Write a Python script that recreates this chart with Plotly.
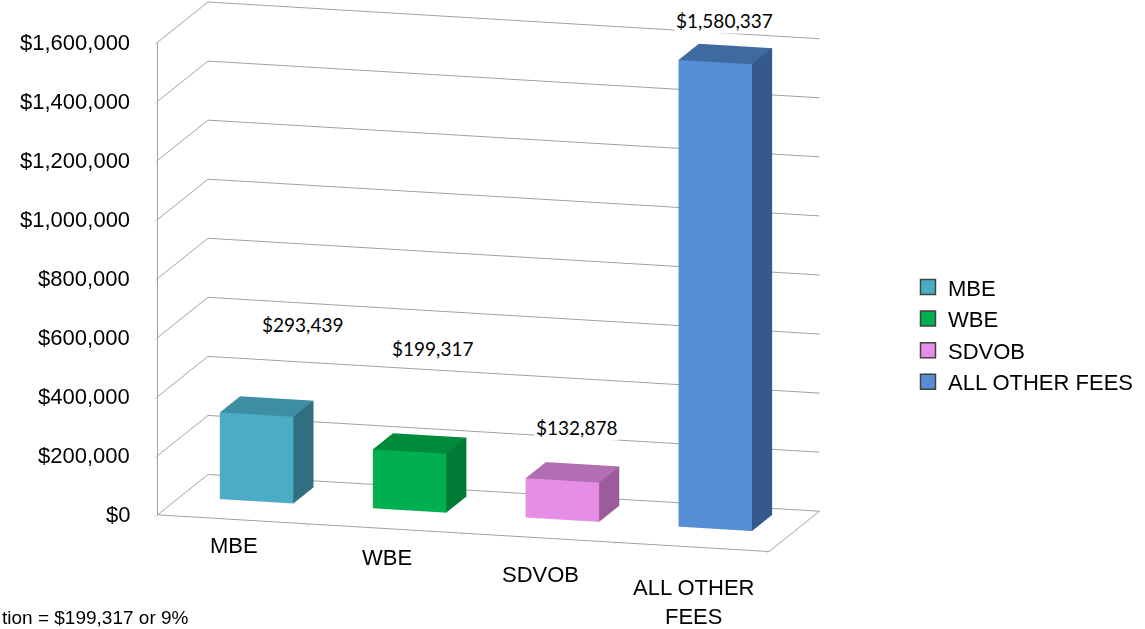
import plotly.graph_objects as go

categories = ["MBE", "WBE", "SDVOB", "ALL OTHER FEES"]
axis_labels = ["MBE", "WBE", "SDVOB", "ALL OTHER<br>FEES"]
values = [293439, 199317, 132878, 1580337]
value_labels = ["$293,439", "$199,317", "$132,878", "$1,580,337"]
z_ticks = [0, 200000, 400000, 600000, 800000, 1000000, 1200000, 1400000, 1600000]
footnote = "tion = $199,317 or 9%"

front_colors = ["#4BACC6", "#00B050", "#E68EE6", "#558ED5"]
top_colors = ["#3D8DA3", "#008A3C", "#B26EB2", "#3F6AA0"]
side_colors = ["#2F6F80", "#007A34", "#9C5C9C", "#35598C"]

FONT = "Liberation Sans, Arial, sans-serif"
LABEL_FONT = "Lato, Carlito, Calibri, sans-serif"

half_w = 0.24
d0, d1 = 0.45, 0.85
Z_MAX = 1600000

fig = go.Figure()

tri_i = [0, 0, 1, 1, 4, 4, 0, 0, 3, 3, 0, 0]
tri_j = [1, 5, 2, 6, 5, 6, 3, 7, 2, 6, 1, 2]
tri_k = [5, 4, 6, 5, 6, 7, 7, 4, 6, 7, 2, 3]

for n, (cat, v) in enumerate(zip(categories, values)):
    xc = n + 1
    x0, x1 = xc - half_w, xc + half_w
    xs = [x0, x1, x1, x0, x0, x1, x1, x0]
    ys = [d0, d0, d1, d1, d0, d0, d1, d1]
    zs = [0, 0, 0, 0, v, v, v, v]
    fc = ([front_colors[n]] * 2 + [side_colors[n]] * 2 + [top_colors[n]] * 2 +
          [side_colors[n]] * 6)
    fig.add_trace(go.Mesh3d(
        x=xs, y=ys, z=zs, i=tri_i, j=tri_j, k=tri_k,
        facecolor=fc, flatshading=True, showlegend=False, hoverinfo="skip",
        lighting=dict(ambient=1.0, diffuse=0.0, specular=0.0, roughness=1.0, fresnel=0.0),
        name=cat,
    ))
    fig.add_trace(go.Scatter(
        x=[None], y=[None], mode="markers", name=cat,
        marker=dict(symbol="square", size=15, color=front_colors[n],
                    line=dict(color="#404040", width=1.5)),
    ))

label_shift = [(35, 82), (12, 95), (4, 45), (-1, 34)]
cat_shift = [-12, -15, -22, -26]
annotations3d = []
for t in z_ticks:
    annotations3d.append(dict(
        x=0.5, y=0, z=t, text="${:,}".format(t), showarrow=False, xanchor="right",
        xshift=-26, font=dict(family=FONT, size=22, color="#000000"),
    ))
for n, lab in enumerate(axis_labels):
    annotations3d.append(dict(
        x=n + 1, y=0, z=0, text=lab, showarrow=False, yanchor="top",
        yshift=cat_shift[n], font=dict(family=FONT, size=22, color="#000000"),
    ))
for n, (lab, v) in enumerate(zip(value_labels, values)):
    sx, sy = label_shift[n]
    annotations3d.append(dict(
        x=n + 1, y=(d0 + d1) / 2, z=v, text=lab, showarrow=False,
        xshift=sx, yshift=sy, bgcolor="white",
        font=dict(family=LABEL_FONT, size=19, color="#000000"),
    ))

fig.update_layout(
    width=1145, height=629,
    margin=dict(l=0, r=0, t=0, b=0),
    paper_bgcolor="white", plot_bgcolor="white",
    xaxis=dict(visible=False), yaxis=dict(visible=False),
    showlegend=True,
    legend=dict(x=0.793, y=0.468, yanchor="middle", font=dict(family=FONT, size=22, color="#000"),
                tracegroupgap=0, bgcolor="rgba(0,0,0,0)"),
    scene=dict(
        domain=dict(x=[0.057, 0.797], y=[0.094, 1.0]),
        aspectmode="manual", aspectratio=dict(x=2.225, y=0.67, z=1.70),
        camera=dict(eye=dict(x=0.258, y=-0.941, z=0.189),
                    center=dict(x=0, y=0, z=-0.03), up=dict(x=0, y=0, z=1),
                    projection=dict(type="orthographic")),
        xaxis=dict(range=[0.5, 4.5], showgrid=False, zeroline=False, showbackground=False,
                   showline=True, linecolor="#A0A0A0", linewidth=2,
                   tickvals=[0.5, 1.5, 2.5, 3.5, 4.5], ticktext=["", "", "", "", ""],
                   ticks="outside", ticklen=6, tickcolor="#A0A0A0", title=dict(text=""),
                   showspikes=False),
        yaxis=dict(range=[0, 1], showgrid=False, zeroline=False, showbackground=False,
                   showline=True, linecolor="#A0A0A0", linewidth=2,
                   showticklabels=False, ticks="", title=dict(text=""), showspikes=False),
        zaxis=dict(range=[0, Z_MAX * 1.0005], tickvals=z_ticks, showticklabels=False,
                   showgrid=True, gridcolor="#A0A0A0", gridwidth=2, zeroline=False,
                   showbackground=False, showline=True, linecolor="#A0A0A0", linewidth=2,
                   ticks="outside", ticklen=6, tickcolor="#A0A0A0",
                   title=dict(text=""), showspikes=False),
        annotations=annotations3d,
    ),
    annotations=[dict(xref="paper", yref="paper", x=0, y=0.019, xanchor="left", yanchor="middle",
                      text=footnote, showarrow=False, font=dict(family=FONT, size=19, color="#000"))],
)

fig.write_html("out.html", config={"displayModeBar": False},
               post_script="document.body.style.margin='0px';")
